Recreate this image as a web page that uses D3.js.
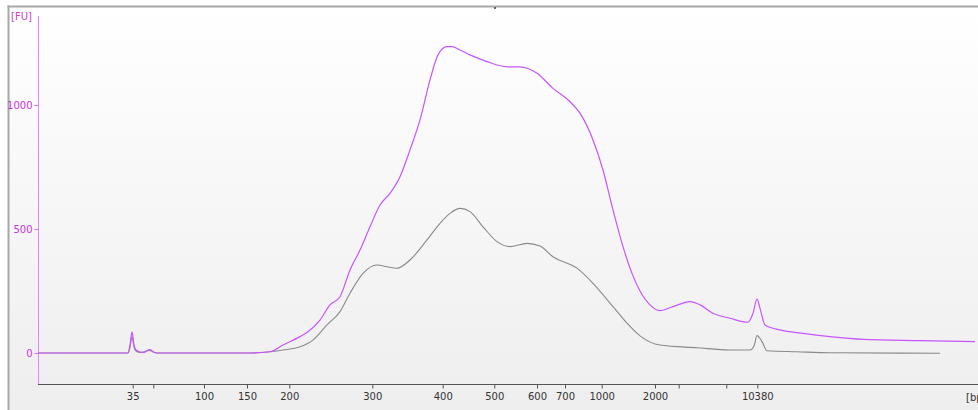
<!DOCTYPE html>
<html>
<head>
    <title>Electropherogram</title>
    <script src="https://d3js.org/d3.v7.min.js"></script>
    <style>
        body { margin: 0; background: #fff; }
        svg { display: block; }
    </style>
</head>
<body>
    <script>
// migration time (s) vs fluorescence (FU)
const sampleTime = [40, 48.2, 49.0, 49.2, 49.4, 49.6, 49.8, 50.2, 50.6, 50.9, 51.2, 51.5, 51.9, 61.2, 63.2, 64.5,
    66.2, 67.0, 68.2, 69.2, 70.2, 71.2, 72.2, 73.2, 74.2, 75.2, 76.2, 77.2, 78.2, 79.2, 80.0, 80.9, 81.4, 82.2,
    83.2, 84.9, 86.9, 88.2, 89.9, 91.5, 93.2, 94.2, 95.5, 96.5, 97.5, 98.5, 99.4, 100.2, 101.2, 102.2, 103.5,
    105.2, 106.2, 107.5, 109.2, 111.0, 111.5, 111.9, 112.2, 112.7, 114.2, 116.5, 119.2, 122.5, 128.2, 133.7];
const sampleFU = [0, 0, 0, 32, 85, 32, 12, 4, 2, 10, 14, 6, 0, 0, 5, 32,
    66, 86, 133, 194, 227, 335, 415, 509, 597, 644, 711, 819, 940, 1101, 1202, 1235, 1235, 1222,
    1202, 1175, 1154, 1154, 1128, 1067, 1013, 967, 859, 738, 577, 429, 321, 250, 194, 171, 187,
    207, 194, 160, 140, 124, 160, 217, 180, 113, 93, 79, 66, 55, 50, 46];

const ladderTime = [40, 49.0, 49.2, 49.4, 49.6, 49.8, 50.2, 50.9, 51.2, 51.5, 51.9, 61.2, 64.5, 66.2, 67.5, 68.9,
    70.2, 71.2, 72.5, 73.9, 74.9, 75.9, 77.2, 78.9, 80.2, 81.2, 82.2, 83.2, 84.5, 85.9, 87.2, 88.9, 90.2,
    91.5, 93.9, 95.5, 97.5, 98.9, 100.2, 102.2, 105.9, 109.2, 111.2, 111.6, 111.9, 112.4, 112.9, 115.9, 119.2, 130.2];
const ladderFU = [0, 0, 24, 65, 24, 8, 2, 8, 10, 4, 0, 0, 12, 25, 52, 113,
    167, 241, 321, 355, 348, 342, 375, 456, 523, 563, 583, 570, 509, 449, 429, 442, 431,
    388, 342, 281, 187, 120, 69, 32, 21, 12, 12, 28, 70, 46, 9, 5, 1, -1];

// size ladder: bp label at each marker's migration time
const bpTime = [49.47, 51.53, 56.6, 60.9, 65.13, 73.43, 80.47, 85.63, 89.9, 92.7, 96.37, 101.7, 104.07, 108.83, 111.93];
const bpLabels = ["35", "", "100", "150", "200", "300", "400", "500", "600", "700", "1000", "2000", "", "", "10380"];

const fuTicks = [0, 500, 1000];

const W = 978, H = 410;
const svg = d3.select("body").append("svg").attr("width", W).attr("height", H);

const defs = svg.append("defs");
const grad = defs.append("linearGradient").attr("id", "bg").attr("x1", 0).attr("y1", 0).attr("x2", 0).attr("y2", 1);
grad.append("stop").attr("offset", "0%").attr("stop-color", "#ffffff");
grad.append("stop").attr("offset", "100%").attr("stop-color", "#eeeeee");

svg.append("rect").attr("x", 9).attr("y", 7).attr("width", W - 9).attr("height", H - 7).attr("fill", "url(#bg)");
// frame
svg.append("rect").attr("x", 7.5).attr("y", 5.5).attr("width", 2).attr("height", H).attr("fill", "#a8a8a8");
svg.append("rect").attr("x", 7.5).attr("y", 5.5).attr("width", W).attr("height", 2).attr("fill", "#a8a8a8");
svg.append("rect").attr("x", 494).attr("y", 7).attr("width", 2).attr("height", 2).attr("fill", "#666");

const x = d3.scaleLinear().domain([40, 134]).range([38, 978]);
const y = d3.scaleLinear().domain([0, 1000]).range([353, 105]);

// x axis
const xAxis = svg.append("g")
    .attr("transform", "translate(0,384.5)")
    .call(d3.axisBottom(x).tickValues(bpTime).tickFormat((d, i) => bpLabels[i]).tickSize(4).tickSizeOuter(0));
xAxis.select(".domain").attr("stroke", "#555").attr("d", "M38,0H978");
xAxis.selectAll(".tick line").attr("stroke", "#555");
xAxis.selectAll("text").attr("fill", "#333").attr("font-family", "DejaVu Sans, sans-serif")
    .attr("font-size", 10).attr("dy", "0.95em").attr("y", 6);

svg.append("text").attr("x", 966).attr("y", 401).attr("fill", "#333")
    .attr("font-family", "DejaVu Sans, sans-serif").attr("font-size", 10).text("[bp]");

// y axis
const yAxis = svg.append("g")
    .attr("transform", "translate(38.5,0)")
    .call(d3.axisLeft(y).tickValues(fuTicks).tickFormat(d3.format("d")).tickSize(4).tickSizeOuter(0));
yAxis.select(".domain").attr("stroke", "#dd88ff").attr("d", "M0,16V384");
yAxis.selectAll(".tick line").attr("stroke", "#dd66ff");
yAxis.selectAll("text").attr("fill", "#cc33dd").attr("font-family", "DejaVu Sans, sans-serif")
    .attr("font-size", 10).attr("x", -6);

svg.append("text").attr("x", 11).attr("y", 20).attr("fill", "#d040c8")
    .attr("font-family", "DejaVu Sans, sans-serif").attr("font-size", 10).text("[FU]");

const line = d3.line().x(d => x(d[0])).y(d => y(d[1])).curve(d3.curveMonotoneX);

svg.append("path")
    .datum(d3.zip(ladderTime, ladderFU))
    .attr("fill", "none").attr("stroke", "#8a8a8a").attr("stroke-width", 1.1)
    .attr("d", line);

svg.append("path")
    .datum(d3.zip(sampleTime, sampleFU))
    .attr("fill", "none").attr("stroke", "#c655ff").attr("stroke-width", 1.2)
    .attr("d", line);
    </script>
</body>
</html>
